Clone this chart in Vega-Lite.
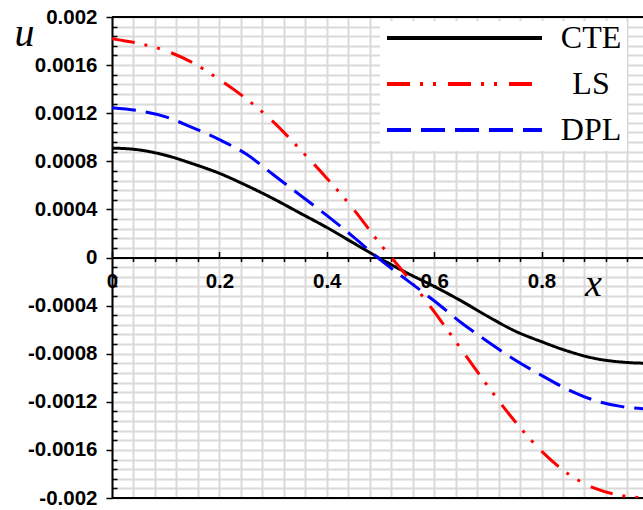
{
  "$schema": "https://vega.github.io/schema/vega-lite/v6.json",
  "autosize": {"type": "none"},
  "padding": {"left": 112, "top": 17, "right": 0, "bottom": 12},
  "width": 531,
  "height": 481,
  "background": "white",
  "config": {"view": {"stroke": null}},
  "datasets": {
    "curves": [
      {"x": 0, "u": 0.00091, "model": "CTE"},
      {"x": 0.05, "u": 0.000895, "model": "CTE"},
      {"x": 0.1, "u": 0.00085, "model": "CTE"},
      {"x": 0.15, "u": 0.00078, "model": "CTE"},
      {"x": 0.2, "u": 0.0007, "model": "CTE"},
      {"x": 0.25, "u": 0.0006, "model": "CTE"},
      {"x": 0.3, "u": 0.00049, "model": "CTE"},
      {"x": 0.35, "u": 0.00037, "model": "CTE"},
      {"x": 0.4, "u": 0.00025, "model": "CTE"},
      {"x": 0.45, "u": 0.00012, "model": "CTE"},
      {"x": 0.5, "u": -0.00001, "model": "CTE"},
      {"x": 0.55, "u": -0.00013, "model": "CTE"},
      {"x": 0.6, "u": -0.00024, "model": "CTE"},
      {"x": 0.65, "u": -0.00036, "model": "CTE"},
      {"x": 0.7, "u": -0.00049, "model": "CTE"},
      {"x": 0.75, "u": -0.00061, "model": "CTE"},
      {"x": 0.8, "u": -0.0007, "model": "CTE"},
      {"x": 0.85, "u": -0.00078, "model": "CTE"},
      {"x": 0.9, "u": -0.00084, "model": "CTE"},
      {"x": 0.95, "u": -0.00087, "model": "CTE"},
      {"x": 1.0, "u": -0.00088, "model": "CTE"},
      {"x": 0, "u": 0.00182, "model": "LS"},
      {"x": 0.05, "u": 0.00178, "model": "LS"},
      {"x": 0.1, "u": 0.00172, "model": "LS"},
      {"x": 0.15, "u": 0.00162, "model": "LS"},
      {"x": 0.2, "u": 0.00148, "model": "LS"},
      {"x": 0.25, "u": 0.00132, "model": "LS"},
      {"x": 0.3, "u": 0.00113, "model": "LS"},
      {"x": 0.35, "u": 0.0009, "model": "LS"},
      {"x": 0.4, "u": 0.00066, "model": "LS"},
      {"x": 0.45, "u": 0.0004, "model": "LS"},
      {"x": 0.5, "u": 0.00011, "model": "LS"},
      {"x": 0.55, "u": -0.00016, "model": "LS"},
      {"x": 0.6, "u": -0.00045, "model": "LS"},
      {"x": 0.65, "u": -0.00076, "model": "LS"},
      {"x": 0.7, "u": -0.00107, "model": "LS"},
      {"x": 0.75, "u": -0.00136, "model": "LS"},
      {"x": 0.8, "u": -0.00161, "model": "LS"},
      {"x": 0.85, "u": -0.0018, "model": "LS"},
      {"x": 0.9, "u": -0.00192, "model": "LS"},
      {"x": 0.95, "u": -0.00198, "model": "LS"},
      {"x": 1.0, "u": -0.002, "model": "LS"},
      {"x": 0, "u": 0.001245, "model": "DPL"},
      {"x": 0.05, "u": 0.00122, "model": "DPL"},
      {"x": 0.1, "u": 0.00117, "model": "DPL"},
      {"x": 0.15, "u": 0.00108, "model": "DPL"},
      {"x": 0.2, "u": 0.00098, "model": "DPL"},
      {"x": 0.25, "u": 0.00086, "model": "DPL"},
      {"x": 0.3, "u": 0.00069, "model": "DPL"},
      {"x": 0.35, "u": 0.00052, "model": "DPL"},
      {"x": 0.4, "u": 0.00035, "model": "DPL"},
      {"x": 0.45, "u": 0.00017, "model": "DPL"},
      {"x": 0.5, "u": -0.00002, "model": "DPL"},
      {"x": 0.55, "u": -0.00019, "model": "DPL"},
      {"x": 0.6, "u": -0.00036, "model": "DPL"},
      {"x": 0.65, "u": -0.00054, "model": "DPL"},
      {"x": 0.7, "u": -0.0007, "model": "DPL"},
      {"x": 0.75, "u": -0.00085, "model": "DPL"},
      {"x": 0.8, "u": -0.00098, "model": "DPL"},
      {"x": 0.85, "u": -0.0011, "model": "DPL"},
      {"x": 0.9, "u": -0.00119, "model": "DPL"},
      {"x": 0.95, "u": -0.00124, "model": "DPL"},
      {"x": 1.0, "u": -0.00126, "model": "DPL"}
    ],
    "frame": [{"u": 0.002}, {"u": -0.002}]
  },
  "layer": [
    {
      "data": {"name": "frame"},
      "mark": {"type": "rule", "color": "black", "strokeWidth": 2},
      "encoding": {
        "y": {"field": "u", "type": "quantitative", "scale": {"domain": [-0.002, 0.002], "nice": false, "zero": false}}
      }
    },
    {
      "data": {"name": "curves"},
      "mark": {"type": "line", "strokeWidth": 3, "clip": true, "interpolate": "monotone"},
      "encoding": {
        "x": {
          "field": "x", "type": "quantitative",
          "scale": {"domain": [0, 0.989], "nice": false, "zero": false},
          "axis": {
            "orient": "bottom",
            "offset": -240.5,
            "tickCount": 200,
            "values": [0, 0.04, 0.08, 0.12, 0.16, 0.2, 0.24, 0.28, 0.32, 0.36, 0.4, 0.44, 0.48, 0.52, 0.56, 0.6, 0.64, 0.68, 0.72, 0.76, 0.8, 0.84, 0.88, 0.92, 0.96],
            "grid": true, "gridColor": "#d9d9d9", "gridWidth": 2,
            "domain": true, "domainColor": "black", "domainWidth": 2,
            "ticks": true, "tickColor": "black", "tickWidth": 1.5,
            "tickSize": {"condition": {"test": "abs(datum.value*5 - round(datum.value*5)) < 0.001", "value": -6}, "value": 4},
            "labelExpr": "abs(datum.value*5 - round(datum.value*5)) < 0.001 ? format(datum.value, '~g') : ''",
            "labelFont": "Liberation Sans", "labelFontWeight": "bold", "labelFontSize": 20.5, "labelColor": "black",
            "labelPadding": 20, "labelBaseline": "top", "labelFlush": false, "labelOverlap": false,
            "title": "x",
            "titleFont": "Liberation Serif", "titleFontStyle": "italic", "titleFontWeight": "normal", "titleFontSize": 38, "titleColor": "black",
            "titleX": 481, "titleY": 38, "titleAlign": "center", "titleBaseline": "alphabetic", "titleAngle": 0
          }
        },
        "y": {
          "field": "u", "type": "quantitative",
          "scale": {"domain": [-0.002, 0.002], "nice": false, "zero": false},
          "axis": {
            "orient": "left",
            "tickCount": 200,
            "values": [-0.002, -0.00192, -0.00184, -0.00176, -0.00168, -0.0016, -0.00152, -0.00144, -0.00136, -0.00128, -0.0012, -0.00112, -0.00104, -0.00096, -0.00088, -0.0008, -0.00072, -0.00064, -0.00056, -0.00048, -0.0004, -0.00032, -0.00024, -0.00016, -0.00008, 0, 0.00008, 0.00016, 0.00024, 0.00032, 0.0004, 0.00048, 0.00056, 0.00064, 0.00072, 0.0008, 0.00088, 0.00096, 0.00104, 0.00112, 0.0012, 0.00128, 0.00136, 0.00144, 0.00152, 0.0016, 0.00168, 0.00176, 0.00184, 0.00192, 0.002],
            "grid": true, "gridColor": "#d9d9d9", "gridWidth": 2,
            "domain": true, "domainColor": "black", "domainWidth": 2,
            "ticks": true, "tickColor": "black", "tickWidth": 1.5,
            "tickSize": {"condition": {"test": "abs(datum.value*2500 - round(datum.value*2500)) < 0.001", "value": 6}, "value": -5},
            "labelExpr": "abs(datum.value*2500 - round(datum.value*2500)) < 0.001 ? replace(format(datum.value, '~g'), '\u2212', '-') : ''",
            "labelFont": "Liberation Sans", "labelFontWeight": "bold", "labelFontSize": 20.5, "labelColor": "black",
            "labelPadding": 9, "labelFlush": false, "labelOverlap": false,
            "title": "u",
            "titleFont": "Liberation Serif", "titleFontStyle": "italic", "titleFontWeight": "normal", "titleFontSize": 40, "titleColor": "black",
            "titleX": -88, "titleY": 28, "titleAlign": "center", "titleBaseline": "alphabetic", "titleAngle": 0
          }
        },
        "color": {
          "field": "model", "type": "nominal",
          "scale": {"domain": ["CTE", "LS", "DPL"], "range": ["#000000", "#ff0000", "#0000ff"]},
          "legend": {
            "title": null,
            "orient": "none", "legendX": 268, "legendY": 4,
            "fillColor": "white", "strokeColor": null, "padding": 5,
            "symbolType": "stroke", "symbolSize": 24025, "symbolStrokeWidth": 4,
            "clipHeight": 24, "rowPadding": 14,
            "labelFont": "Liberation Serif", "labelFontSize": 32, "labelColor": "black", "labelOffset": 47, "labelAlign": "center", "labelLimit": 80
          }
        },
        "strokeDash": {
          "field": "model", "type": "nominal",
          "scale": {"domain": ["CTE", "LS", "DPL"], "range": [[1, 0], [23, 10, 3, 10, 3, 12], [24, 10]]},
          "legend": {
            "title": null,
            "orient": "none", "legendX": 268, "legendY": 4,
            "fillColor": "white", "strokeColor": null, "padding": 5,
            "symbolType": "stroke", "symbolSize": 24025, "symbolStrokeWidth": 4,
            "clipHeight": 24, "rowPadding": 14,
            "labelFont": "Liberation Serif", "labelFontSize": 32, "labelColor": "black", "labelOffset": 47, "labelAlign": "center", "labelLimit": 80
          }
        }
      }
    }
  ]
}
